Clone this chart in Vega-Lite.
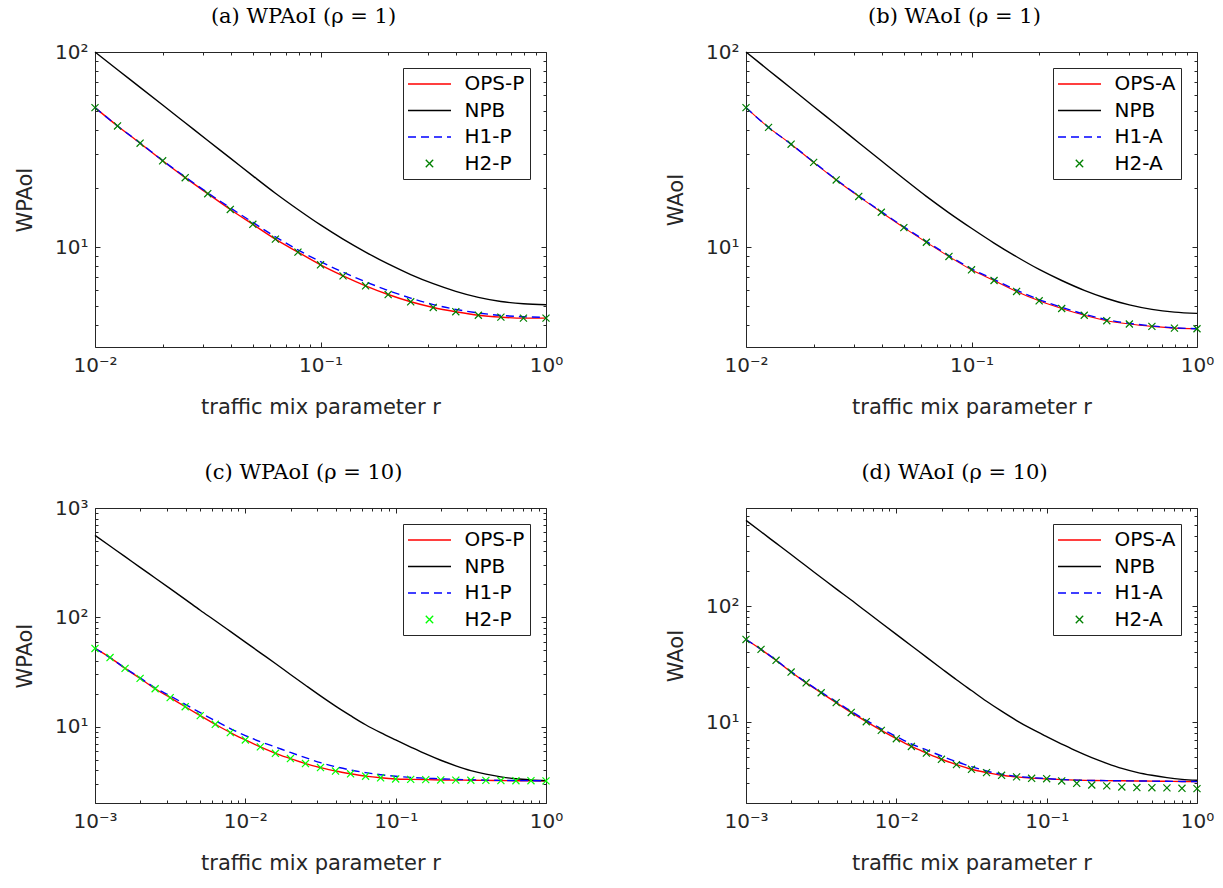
{
  "$schema": "https://vega.github.io/schema/vega-lite/v6.json",
  "padding": {"left": 14, "top": 5, "right": 5, "bottom": 5},
  "background": "white",
  "config": {
    "view": {"stroke": "#262626", "strokeWidth": 1},
    "axis": {"domain": false, "grid": false, "labelFont": "DejaVu Sans", "labelFontSize": 20, "labelColor": "#262626", "titleFont": "DejaVu Sans", "titleFontSize": 21, "titleFontWeight": "normal", "titleColor": "#262626", "tickColor": "#262626", "tickWidth": 1, "labelOverlap": false, "labelFlush": false, "labelBound": false},
    "title": {"font": "DejaVu Serif", "fontSize": 21, "fontWeight": "normal", "color": "black", "offset": 15, "dx": -17, "anchor": "middle"},
    "legend": {"labelFont": "DejaVu Sans", "labelFontSize": 20, "labelColor": "black"}
  },
  "datasets": {
    "pa": [
      {"r":0.01,"w":51.9,"s":"OPS-P"},{"r":0.012589,"w":41.8,"s":"OPS-P"},{"r":0.015849,"w":34.1,"s":"OPS-P"},{"r":0.019953,"w":27.7,"s":"OPS-P"},{"r":0.025119,"w":22.7,"s":"OPS-P"},{"r":0.031623,"w":18.8,"s":"OPS-P"},{"r":0.039811,"w":15.6,"s":"OPS-P"},{"r":0.050119,"w":13.1,"s":"OPS-P"},{"r":0.063096,"w":11.0,"s":"OPS-P"},{"r":0.079433,"w":9.43,"s":"OPS-P"},{"r":0.1,"w":8.12,"s":"OPS-P"},{"r":0.12589,"w":7.13,"s":"OPS-P"},{"r":0.15849,"w":6.34,"s":"OPS-P"},{"r":0.19953,"w":5.72,"s":"OPS-P"},{"r":0.25119,"w":5.25,"s":"OPS-P"},{"r":0.31623,"w":4.91,"s":"OPS-P"},{"r":0.39811,"w":4.67,"s":"OPS-P"},{"r":0.50119,"w":4.48,"s":"OPS-P"},{"r":0.63096,"w":4.38,"s":"OPS-P"},{"r":0.79433,"w":4.33,"s":"OPS-P"},{"r":1,"w":4.33,"s":"OPS-P"},
      {"r":0.01,"w":100,"s":"NPB"},{"r":0.012589,"w":81.1,"s":"NPB"},{"r":0.015849,"w":65.9,"s":"NPB"},{"r":0.019953,"w":53.5,"s":"NPB"},{"r":0.025119,"w":43.4,"s":"NPB"},{"r":0.031623,"w":35.2,"s":"NPB"},{"r":0.039811,"w":28.6,"s":"NPB"},{"r":0.050119,"w":23.2,"s":"NPB"},{"r":0.063096,"w":18.9,"s":"NPB"},{"r":0.079433,"w":15.6,"s":"NPB"},{"r":0.1,"w":13.0,"s":"NPB"},{"r":0.12589,"w":11.0,"s":"NPB"},{"r":0.15849,"w":9.44,"s":"NPB"},{"r":0.19953,"w":8.20,"s":"NPB"},{"r":0.25119,"w":7.24,"s":"NPB"},{"r":0.31623,"w":6.50,"s":"NPB"},{"r":0.39811,"w":5.94,"s":"NPB"},{"r":0.50119,"w":5.53,"s":"NPB"},{"r":0.63096,"w":5.27,"s":"NPB"},{"r":0.79433,"w":5.13,"s":"NPB"},{"r":1,"w":5.07,"s":"NPB"},
      {"r":0.01,"w":51.9,"s":"H1-P"},{"r":0.012589,"w":41.8,"s":"H1-P"},{"r":0.015849,"w":34.2,"s":"H1-P"},{"r":0.019953,"w":27.8,"s":"H1-P"},{"r":0.025119,"w":22.9,"s":"H1-P"},{"r":0.031623,"w":19.0,"s":"H1-P"},{"r":0.039811,"w":15.9,"s":"H1-P"},{"r":0.050119,"w":13.4,"s":"H1-P"},{"r":0.063096,"w":11.3,"s":"H1-P"},{"r":0.079433,"w":9.68,"s":"H1-P"},{"r":0.1,"w":8.43,"s":"H1-P"},{"r":0.12589,"w":7.45,"s":"H1-P"},{"r":0.15849,"w":6.65,"s":"H1-P"},{"r":0.19953,"w":6.00,"s":"H1-P"},{"r":0.25119,"w":5.48,"s":"H1-P"},{"r":0.31623,"w":5.08,"s":"H1-P"},{"r":0.39811,"w":4.80,"s":"H1-P"},{"r":0.50119,"w":4.60,"s":"H1-P"},{"r":0.63096,"w":4.47,"s":"H1-P"},{"r":0.79433,"w":4.40,"s":"H1-P"},{"r":1,"w":4.37,"s":"H1-P"},
      {"r":0.01,"w":51.9,"s":"H2-P"},{"r":0.012589,"w":41.8,"s":"H2-P"},{"r":0.015849,"w":34.1,"s":"H2-P"},{"r":0.019953,"w":27.7,"s":"H2-P"},{"r":0.025119,"w":22.7,"s":"H2-P"},{"r":0.031623,"w":18.8,"s":"H2-P"},{"r":0.039811,"w":15.6,"s":"H2-P"},{"r":0.050119,"w":13.1,"s":"H2-P"},{"r":0.063096,"w":11.0,"s":"H2-P"},{"r":0.079433,"w":9.43,"s":"H2-P"},{"r":0.1,"w":8.12,"s":"H2-P"},{"r":0.12589,"w":7.13,"s":"H2-P"},{"r":0.15849,"w":6.34,"s":"H2-P"},{"r":0.19953,"w":5.72,"s":"H2-P"},{"r":0.25119,"w":5.25,"s":"H2-P"},{"r":0.31623,"w":4.91,"s":"H2-P"},{"r":0.39811,"w":4.67,"s":"H2-P"},{"r":0.50119,"w":4.48,"s":"H2-P"},{"r":0.63096,"w":4.38,"s":"H2-P"},{"r":0.79433,"w":4.33,"s":"H2-P"},{"r":1,"w":4.33,"s":"H2-P"}
    ],
    "pb": [
      {"r":0.01,"w":51.9,"s":"OPS-A"},{"r":0.012589,"w":41.1,"s":"OPS-A"},{"r":0.015849,"w":33.7,"s":"OPS-A"},{"r":0.019953,"w":27.2,"s":"OPS-A"},{"r":0.025119,"w":22.1,"s":"OPS-A"},{"r":0.031623,"w":18.2,"s":"OPS-A"},{"r":0.039811,"w":15.1,"s":"OPS-A"},{"r":0.050119,"w":12.6,"s":"OPS-A"},{"r":0.063096,"w":10.6,"s":"OPS-A"},{"r":0.079433,"w":8.96,"s":"OPS-A"},{"r":0.1,"w":7.66,"s":"OPS-A"},{"r":0.12589,"w":6.75,"s":"OPS-A"},{"r":0.15849,"w":5.93,"s":"OPS-A"},{"r":0.19953,"w":5.31,"s":"OPS-A"},{"r":0.25119,"w":4.85,"s":"OPS-A"},{"r":0.31623,"w":4.48,"s":"OPS-A"},{"r":0.39811,"w":4.20,"s":"OPS-A"},{"r":0.50119,"w":4.04,"s":"OPS-A"},{"r":0.63096,"w":3.93,"s":"OPS-A"},{"r":0.79433,"w":3.85,"s":"OPS-A"},{"r":1,"w":3.82,"s":"OPS-A"},
      {"r":0.01,"w":100,"s":"NPB"},{"r":0.012589,"w":80.7,"s":"NPB"},{"r":0.015849,"w":65.2,"s":"NPB"},{"r":0.019953,"w":52.6,"s":"NPB"},{"r":0.025119,"w":42.5,"s":"NPB"},{"r":0.031623,"w":34.3,"s":"NPB"},{"r":0.039811,"w":27.7,"s":"NPB"},{"r":0.050119,"w":22.4,"s":"NPB"},{"r":0.063096,"w":18.2,"s":"NPB"},{"r":0.079433,"w":15.0,"s":"NPB"},{"r":0.1,"w":12.5,"s":"NPB"},{"r":0.12589,"w":10.5,"s":"NPB"},{"r":0.15849,"w":8.93,"s":"NPB"},{"r":0.19953,"w":7.69,"s":"NPB"},{"r":0.25119,"w":6.75,"s":"NPB"},{"r":0.31623,"w":6.01,"s":"NPB"},{"r":0.39811,"w":5.46,"s":"NPB"},{"r":0.50119,"w":5.06,"s":"NPB"},{"r":0.63096,"w":4.80,"s":"NPB"},{"r":0.79433,"w":4.65,"s":"NPB"},{"r":1,"w":4.58,"s":"NPB"},
      {"r":0.01,"w":51.9,"s":"H1-A"},{"r":0.012589,"w":41.1,"s":"H1-A"},{"r":0.015849,"w":33.7,"s":"H1-A"},{"r":0.019953,"w":27.3,"s":"H1-A"},{"r":0.025119,"w":22.2,"s":"H1-A"},{"r":0.031623,"w":18.3,"s":"H1-A"},{"r":0.039811,"w":15.2,"s":"H1-A"},{"r":0.050119,"w":12.7,"s":"H1-A"},{"r":0.063096,"w":10.7,"s":"H1-A"},{"r":0.079433,"w":9.05,"s":"H1-A"},{"r":0.1,"w":7.75,"s":"H1-A"},{"r":0.12589,"w":6.84,"s":"H1-A"},{"r":0.15849,"w":6.02,"s":"H1-A"},{"r":0.19953,"w":5.39,"s":"H1-A"},{"r":0.25119,"w":4.92,"s":"H1-A"},{"r":0.31623,"w":4.54,"s":"H1-A"},{"r":0.39811,"w":4.25,"s":"H1-A"},{"r":0.50119,"w":4.07,"s":"H1-A"},{"r":0.63096,"w":3.95,"s":"H1-A"},{"r":0.79433,"w":3.86,"s":"H1-A"},{"r":1,"w":3.82,"s":"H1-A"},
      {"r":0.01,"w":51.9,"s":"H2-A"},{"r":0.012589,"w":41.1,"s":"H2-A"},{"r":0.015849,"w":33.7,"s":"H2-A"},{"r":0.019953,"w":27.2,"s":"H2-A"},{"r":0.025119,"w":22.1,"s":"H2-A"},{"r":0.031623,"w":18.2,"s":"H2-A"},{"r":0.039811,"w":15.1,"s":"H2-A"},{"r":0.050119,"w":12.6,"s":"H2-A"},{"r":0.063096,"w":10.6,"s":"H2-A"},{"r":0.079433,"w":8.96,"s":"H2-A"},{"r":0.1,"w":7.66,"s":"H2-A"},{"r":0.12589,"w":6.75,"s":"H2-A"},{"r":0.15849,"w":5.93,"s":"H2-A"},{"r":0.19953,"w":5.31,"s":"H2-A"},{"r":0.25119,"w":4.85,"s":"H2-A"},{"r":0.31623,"w":4.48,"s":"H2-A"},{"r":0.39811,"w":4.20,"s":"H2-A"},{"r":0.50119,"w":4.04,"s":"H2-A"},{"r":0.63096,"w":3.93,"s":"H2-A"},{"r":0.79433,"w":3.85,"s":"H2-A"},{"r":1,"w":3.82,"s":"H2-A"}
    ],
    "pc": [
      {"r":0.001,"w":51.9,"s":"OPS-P"},{"r":0.0012589,"w":42.8,"s":"OPS-P"},{"r":0.0015849,"w":34.1,"s":"OPS-P"},{"r":0.0019953,"w":27.6,"s":"OPS-P"},{"r":0.0025119,"w":22.2,"s":"OPS-P"},{"r":0.0031623,"w":18.4,"s":"OPS-P"},{"r":0.0039811,"w":15.2,"s":"OPS-P"},{"r":0.0050119,"w":12.6,"s":"OPS-P"},{"r":0.0063096,"w":10.5,"s":"OPS-P"},{"r":0.0079433,"w":8.81,"s":"OPS-P"},{"r":0.01,"w":7.55,"s":"OPS-P"},{"r":0.012589,"w":6.52,"s":"OPS-P"},{"r":0.015849,"w":5.70,"s":"OPS-P"},{"r":0.019953,"w":5.10,"s":"OPS-P"},{"r":0.025119,"w":4.59,"s":"OPS-P"},{"r":0.031623,"w":4.22,"s":"OPS-P"},{"r":0.039811,"w":3.92,"s":"OPS-P"},{"r":0.050119,"w":3.70,"s":"OPS-P"},{"r":0.063096,"w":3.52,"s":"OPS-P"},{"r":0.079433,"w":3.40,"s":"OPS-P"},{"r":0.1,"w":3.32,"s":"OPS-P"},{"r":0.12589,"w":3.29,"s":"OPS-P"},{"r":0.15849,"w":3.27,"s":"OPS-P"},{"r":0.19953,"w":3.25,"s":"OPS-P"},{"r":0.25119,"w":3.24,"s":"OPS-P"},{"r":0.31623,"w":3.23,"s":"OPS-P"},{"r":0.39811,"w":3.22,"s":"OPS-P"},{"r":0.50119,"w":3.21,"s":"OPS-P"},{"r":0.63096,"w":3.20,"s":"OPS-P"},{"r":0.79433,"w":3.20,"s":"OPS-P"},{"r":1,"w":3.19,"s":"OPS-P"},
      {"r":0.001,"w":562,"s":"NPB"},{"r":0.0012589,"w":449,"s":"NPB"},{"r":0.0015849,"w":359,"s":"NPB"},{"r":0.0019953,"w":286,"s":"NPB"},{"r":0.0025119,"w":229,"s":"NPB"},{"r":0.0031623,"w":183,"s":"NPB"},{"r":0.0039811,"w":146,"s":"NPB"},{"r":0.0050119,"w":116,"s":"NPB"},{"r":0.0063096,"w":93.0,"s":"NPB"},{"r":0.0079433,"w":74.3,"s":"NPB"},{"r":0.01,"w":59.3,"s":"NPB"},{"r":0.012589,"w":47.3,"s":"NPB"},{"r":0.015849,"w":37.8,"s":"NPB"},{"r":0.019953,"w":30.0,"s":"NPB"},{"r":0.025119,"w":23.9,"s":"NPB"},{"r":0.031623,"w":19.1,"s":"NPB"},{"r":0.039811,"w":15.4,"s":"NPB"},{"r":0.050119,"w":12.6,"s":"NPB"},{"r":0.063096,"w":10.4,"s":"NPB"},{"r":0.079433,"w":8.80,"s":"NPB"},{"r":0.1,"w":7.55,"s":"NPB"},{"r":0.12589,"w":6.50,"s":"NPB"},{"r":0.15849,"w":5.62,"s":"NPB"},{"r":0.19953,"w":4.92,"s":"NPB"},{"r":0.25119,"w":4.38,"s":"NPB"},{"r":0.31623,"w":3.96,"s":"NPB"},{"r":0.39811,"w":3.67,"s":"NPB"},{"r":0.50119,"w":3.47,"s":"NPB"},{"r":0.63096,"w":3.33,"s":"NPB"},{"r":0.79433,"w":3.25,"s":"NPB"},{"r":1,"w":3.20,"s":"NPB"},
      {"r":0.001,"w":51.9,"s":"H1-P"},{"r":0.0012589,"w":42.8,"s":"H1-P"},{"r":0.0015849,"w":34.3,"s":"H1-P"},{"r":0.0019953,"w":27.9,"s":"H1-P"},{"r":0.0025119,"w":22.6,"s":"H1-P"},{"r":0.0031623,"w":19.1,"s":"H1-P"},{"r":0.0039811,"w":16.0,"s":"H1-P"},{"r":0.0050119,"w":13.4,"s":"H1-P"},{"r":0.0063096,"w":11.3,"s":"H1-P"},{"r":0.0079433,"w":9.59,"s":"H1-P"},{"r":0.01,"w":8.28,"s":"H1-P"},{"r":0.012589,"w":7.28,"s":"H1-P"},{"r":0.015849,"w":6.51,"s":"H1-P"},{"r":0.019953,"w":5.80,"s":"H1-P"},{"r":0.025119,"w":5.20,"s":"H1-P"},{"r":0.031623,"w":4.68,"s":"H1-P"},{"r":0.039811,"w":4.30,"s":"H1-P"},{"r":0.050119,"w":4.01,"s":"H1-P"},{"r":0.063096,"w":3.79,"s":"H1-P"},{"r":0.079433,"w":3.63,"s":"H1-P"},{"r":0.1,"w":3.51,"s":"H1-P"},{"r":0.12589,"w":3.43,"s":"H1-P"},{"r":0.15849,"w":3.37,"s":"H1-P"},{"r":0.19953,"w":3.33,"s":"H1-P"},{"r":0.25119,"w":3.29,"s":"H1-P"},{"r":0.31623,"w":3.26,"s":"H1-P"},{"r":0.39811,"w":3.24,"s":"H1-P"},{"r":0.50119,"w":3.22,"s":"H1-P"},{"r":0.63096,"w":3.21,"s":"H1-P"},{"r":0.79433,"w":3.20,"s":"H1-P"},{"r":1,"w":3.19,"s":"H1-P"},
      {"r":0.001,"w":51.9,"s":"H2-P"},{"r":0.0012589,"w":42.8,"s":"H2-P"},{"r":0.0015849,"w":34.1,"s":"H2-P"},{"r":0.0019953,"w":27.6,"s":"H2-P"},{"r":0.0025119,"w":22.2,"s":"H2-P"},{"r":0.0031623,"w":18.4,"s":"H2-P"},{"r":0.0039811,"w":15.2,"s":"H2-P"},{"r":0.0050119,"w":12.6,"s":"H2-P"},{"r":0.0063096,"w":10.5,"s":"H2-P"},{"r":0.0079433,"w":8.81,"s":"H2-P"},{"r":0.01,"w":7.55,"s":"H2-P"},{"r":0.012589,"w":6.52,"s":"H2-P"},{"r":0.015849,"w":5.70,"s":"H2-P"},{"r":0.019953,"w":5.10,"s":"H2-P"},{"r":0.025119,"w":4.59,"s":"H2-P"},{"r":0.031623,"w":4.22,"s":"H2-P"},{"r":0.039811,"w":3.92,"s":"H2-P"},{"r":0.050119,"w":3.70,"s":"H2-P"},{"r":0.063096,"w":3.52,"s":"H2-P"},{"r":0.079433,"w":3.40,"s":"H2-P"},{"r":0.1,"w":3.32,"s":"H2-P"},{"r":0.12589,"w":3.29,"s":"H2-P"},{"r":0.15849,"w":3.27,"s":"H2-P"},{"r":0.19953,"w":3.25,"s":"H2-P"},{"r":0.25119,"w":3.24,"s":"H2-P"},{"r":0.31623,"w":3.23,"s":"H2-P"},{"r":0.39811,"w":3.22,"s":"H2-P"},{"r":0.50119,"w":3.21,"s":"H2-P"},{"r":0.63096,"w":3.20,"s":"H2-P"},{"r":0.79433,"w":3.20,"s":"H2-P"},{"r":1,"w":3.19,"s":"H2-P"}
    ],
    "pd": [
      {"r":0.001,"w":51.6,"s":"OPS-A"},{"r":0.0012589,"w":42.4,"s":"OPS-A"},{"r":0.0015849,"w":34.1,"s":"OPS-A"},{"r":0.0019953,"w":27.0,"s":"OPS-A"},{"r":0.0025119,"w":21.8,"s":"OPS-A"},{"r":0.0031623,"w":17.9,"s":"OPS-A"},{"r":0.0039811,"w":14.7,"s":"OPS-A"},{"r":0.0050119,"w":12.1,"s":"OPS-A"},{"r":0.0063096,"w":10.07,"s":"OPS-A"},{"r":0.0079433,"w":8.47,"s":"OPS-A"},{"r":0.01,"w":7.18,"s":"OPS-A"},{"r":0.012589,"w":6.15,"s":"OPS-A"},{"r":0.015849,"w":5.40,"s":"OPS-A"},{"r":0.019953,"w":4.77,"s":"OPS-A"},{"r":0.025119,"w":4.29,"s":"OPS-A"},{"r":0.031623,"w":3.91,"s":"OPS-A"},{"r":0.039811,"w":3.66,"s":"OPS-A"},{"r":0.050119,"w":3.47,"s":"OPS-A"},{"r":0.063096,"w":3.36,"s":"OPS-A"},{"r":0.079433,"w":3.28,"s":"OPS-A"},{"r":0.1,"w":3.23,"s":"OPS-A"},{"r":0.12589,"w":3.18,"s":"OPS-A"},{"r":0.15849,"w":3.15,"s":"OPS-A"},{"r":0.19953,"w":3.13,"s":"OPS-A"},{"r":0.25119,"w":3.12,"s":"OPS-A"},{"r":0.31623,"w":3.11,"s":"OPS-A"},{"r":0.39811,"w":3.10,"s":"OPS-A"},{"r":0.50119,"w":3.09,"s":"OPS-A"},{"r":0.63096,"w":3.08,"s":"OPS-A"},{"r":0.79433,"w":3.07,"s":"OPS-A"},{"r":1,"w":3.06,"s":"OPS-A"},
      {"r":0.001,"w":551,"s":"NPB"},{"r":0.0012589,"w":439,"s":"NPB"},{"r":0.0015849,"w":350,"s":"NPB"},{"r":0.0019953,"w":279,"s":"NPB"},{"r":0.0025119,"w":222,"s":"NPB"},{"r":0.0031623,"w":177,"s":"NPB"},{"r":0.0039811,"w":141,"s":"NPB"},{"r":0.0050119,"w":113,"s":"NPB"},{"r":0.0063096,"w":89.9,"s":"NPB"},{"r":0.0079433,"w":71.6,"s":"NPB"},{"r":0.01,"w":57.1,"s":"NPB"},{"r":0.012589,"w":45.6,"s":"NPB"},{"r":0.015849,"w":36.3,"s":"NPB"},{"r":0.019953,"w":29.0,"s":"NPB"},{"r":0.025119,"w":23.2,"s":"NPB"},{"r":0.031623,"w":18.7,"s":"NPB"},{"r":0.039811,"w":15.1,"s":"NPB"},{"r":0.050119,"w":12.4,"s":"NPB"},{"r":0.063096,"w":10.3,"s":"NPB"},{"r":0.079433,"w":8.71,"s":"NPB"},{"r":0.1,"w":7.48,"s":"NPB"},{"r":0.12589,"w":6.46,"s":"NPB"},{"r":0.15849,"w":5.60,"s":"NPB"},{"r":0.19953,"w":4.92,"s":"NPB"},{"r":0.25119,"w":4.40,"s":"NPB"},{"r":0.31623,"w":3.98,"s":"NPB"},{"r":0.39811,"w":3.68,"s":"NPB"},{"r":0.50119,"w":3.47,"s":"NPB"},{"r":0.63096,"w":3.31,"s":"NPB"},{"r":0.79433,"w":3.20,"s":"NPB"},{"r":1,"w":3.14,"s":"NPB"},
      {"r":0.001,"w":51.6,"s":"H1-A"},{"r":0.0012589,"w":42.4,"s":"H1-A"},{"r":0.0015849,"w":34.2,"s":"H1-A"},{"r":0.0019953,"w":27.2,"s":"H1-A"},{"r":0.0025119,"w":22.0,"s":"H1-A"},{"r":0.0031623,"w":18.1,"s":"H1-A"},{"r":0.0039811,"w":15.0,"s":"H1-A"},{"r":0.0050119,"w":12.35,"s":"H1-A"},{"r":0.0063096,"w":10.35,"s":"H1-A"},{"r":0.0079433,"w":8.75,"s":"H1-A"},{"r":0.01,"w":7.50,"s":"H1-A"},{"r":0.012589,"w":6.46,"s":"H1-A"},{"r":0.015849,"w":5.75,"s":"H1-A"},{"r":0.019953,"w":5.09,"s":"H1-A"},{"r":0.025119,"w":4.55,"s":"H1-A"},{"r":0.031623,"w":4.12,"s":"H1-A"},{"r":0.039811,"w":3.78,"s":"H1-A"},{"r":0.050119,"w":3.54,"s":"H1-A"},{"r":0.063096,"w":3.40,"s":"H1-A"},{"r":0.079433,"w":3.31,"s":"H1-A"},{"r":0.1,"w":3.25,"s":"H1-A"},{"r":0.12589,"w":3.19,"s":"H1-A"},{"r":0.15849,"w":3.15,"s":"H1-A"},{"r":0.19953,"w":3.13,"s":"H1-A"},{"r":0.25119,"w":3.12,"s":"H1-A"},{"r":0.31623,"w":3.11,"s":"H1-A"},{"r":0.39811,"w":3.10,"s":"H1-A"},{"r":0.50119,"w":3.09,"s":"H1-A"},{"r":0.63096,"w":3.08,"s":"H1-A"},{"r":0.79433,"w":3.07,"s":"H1-A"},{"r":1,"w":3.06,"s":"H1-A"},
      {"r":0.001,"w":51.6,"s":"H2-A"},{"r":0.0012589,"w":42.4,"s":"H2-A"},{"r":0.0015849,"w":34.1,"s":"H2-A"},{"r":0.0019953,"w":27.0,"s":"H2-A"},{"r":0.0025119,"w":21.8,"s":"H2-A"},{"r":0.0031623,"w":17.9,"s":"H2-A"},{"r":0.0039811,"w":14.7,"s":"H2-A"},{"r":0.0050119,"w":12.1,"s":"H2-A"},{"r":0.0063096,"w":10.07,"s":"H2-A"},{"r":0.0079433,"w":8.47,"s":"H2-A"},{"r":0.01,"w":7.18,"s":"H2-A"},{"r":0.012589,"w":6.15,"s":"H2-A"},{"r":0.015849,"w":5.40,"s":"H2-A"},{"r":0.019953,"w":4.77,"s":"H2-A"},{"r":0.025119,"w":4.29,"s":"H2-A"},{"r":0.031623,"w":3.91,"s":"H2-A"},{"r":0.039811,"w":3.66,"s":"H2-A"},{"r":0.050119,"w":3.47,"s":"H2-A"},{"r":0.063096,"w":3.36,"s":"H2-A"},{"r":0.079433,"w":3.27,"s":"H2-A"},{"r":0.1,"w":3.24,"s":"H2-A"},{"r":0.12589,"w":3.10,"s":"H2-A"},{"r":0.15849,"w":2.96,"s":"H2-A"},{"r":0.19953,"w":2.86,"s":"H2-A"},{"r":0.25119,"w":2.81,"s":"H2-A"},{"r":0.31623,"w":2.75,"s":"H2-A"},{"r":0.39811,"w":2.72,"s":"H2-A"},{"r":0.50119,"w":2.71,"s":"H2-A"},{"r":0.63096,"w":2.70,"s":"H2-A"},{"r":0.79433,"w":2.68,"s":"H2-A"},{"r":1,"w":2.66,"s":"H2-A"}
    ]
  },
  "resolve": {"scale": {"color": "independent"}, "legend": {"color": "independent"}},
  "spacing": 43,
  "vconcat": [
    {
      "spacing": 101,
      "resolve": {"scale": {"color": "independent"}, "legend": {"color": "independent"}},
      "hconcat": [
        {
          "width": 451, "height": 295,
          "title": {"text": "(a) WPAoI (ρ = 1)"},
          "data": {"name": "pa"},
          "resolve": {"axis": {"x": "independent", "y": "independent"}},
          "layer": [
            {"transform": [{"filter": "datum.s == 'OPS-P'"}],
             "mark": {"type": "line", "strokeWidth": 1.4, "interpolate": "monotone"},
             "encoding": {
               "x": {"field": "r", "type": "quantitative", "scale": {"type": "log", "domain": [0.01, 1], "nice": false},
                 "axis": {"orient": "bottom", "title": "traffic mix parameter r", "values": [0.01, 0.1, 1], "tickSize": -5,
                   "labelExpr": "datum.value==0.001?'10⁻³':datum.value==0.01?'10⁻²':datum.value==0.1?'10⁻¹':datum.value==1?'10⁰':''",
                   "labelPadding": 13, "titlePadding": 21}},
               "y": {"field": "w", "type": "quantitative", "scale": {"type": "log", "domain": [3.08, 100], "nice": false},
                 "axis": {"orient": "left", "title": "WPAoI", "values": [10, 100], "tickSize": -5,
                   "labelExpr": "datum.value==10?'10¹':datum.value==100?'10²':datum.value==1000?'10³':''",
                   "labelPadding": 12, "titlePadding": 19}},
               "color": {"field": "s", "type": "nominal", "scale": {"domain": ["OPS-P", "NPB", "H1-P", "H2-P"], "range": ["#ff0000", "#000000", "#0000ff", "#008000"]},
                 "legend": {"title": null, "orient": "top-right", "offset": 16, "padding": 5, "rowPadding": 5.5, "symbolSize": 400, "symbolOffset": 10.5, "labelOffset": 24, "symbolStrokeWidth": 1.4, "strokeColor": "#262626", "fillColor": "white",
                   "encode": {"symbols": {"update": {
                     "shape": {"signal": "indexof(datum.value,'H2')==0 ? 'M-0.37,-0.37L0.37,0.37M-0.37,0.37L0.37,-0.37' : 'M-2.15,0L2.15,0'"},
                     "strokeDash": {"signal": "indexof(datum.value,'H1')==0 ? [8,5] : [1,0]"},
                     "fill": {"value": "transparent"},
                     "stroke": {"signal": "indexof(datum.value,'OPS')==0 ? '#ff0000' : indexof(datum.value,'NPB')==0 ? '#000000' : indexof(datum.value,'H1')==0 ? '#0000ff' : '#008000'"}}}}}}
             }},
            {"transform": [{"filter": "datum.s == 'NPB'"}],
             "mark": {"type": "line", "strokeWidth": 1.4, "interpolate": "monotone"},
             "encoding": {
               "x": {"field": "r", "type": "quantitative", "axis": {"orient": "bottom", "title": null, "labels": false, "tickSize": -3, "values": [0.02,0.03,0.04,0.05,0.06,0.07,0.08,0.09,0.2,0.3,0.4,0.5,0.6,0.7,0.8,0.9]}},
               "y": {"field": "w", "type": "quantitative", "axis": {"orient": "left", "title": null, "labels": false, "tickSize": -3, "values": [4,5,6,7,8,9,20,30,40,50,60,70,80,90]}},
               "color": {"field": "s", "type": "nominal"}}},
            {"transform": [{"filter": "datum.s == 'H1-P'"}],
             "mark": {"type": "line", "strokeWidth": 1.4, "strokeDash": [8, 5], "interpolate": "monotone"},
             "encoding": {
               "x": {"field": "r", "type": "quantitative", "axis": {"orient": "top", "title": null, "labels": false, "tickSize": -5, "values": [0.01, 0.1, 1]}},
               "y": {"field": "w", "type": "quantitative", "axis": {"orient": "right", "title": null, "labels": false, "tickSize": -5, "values": [10, 100]}},
               "color": {"field": "s", "type": "nominal"}}},
            {"transform": [{"filter": "datum.s == 'H2-P'"}],
             "mark": {"type": "point", "shape": "M-1,-1L1,1M-1,1L1,-1", "filled": false, "size": 50, "strokeWidth": 1.2, "opacity": 1},
             "encoding": {
               "x": {"field": "r", "type": "quantitative", "axis": {"orient": "top", "title": null, "labels": false, "tickSize": -3, "values": [0.02,0.03,0.04,0.05,0.06,0.07,0.08,0.09,0.2,0.3,0.4,0.5,0.6,0.7,0.8,0.9]}},
               "y": {"field": "w", "type": "quantitative", "axis": {"orient": "right", "title": null, "labels": false, "tickSize": -3, "values": [4,5,6,7,8,9,20,30,40,50,60,70,80,90]}},
               "color": {"field": "s", "type": "nominal"}}}
          ]
        },
        {
          "width": 451, "height": 295,
          "title": {"text": "(b) WAoI (ρ = 1)"},
          "data": {"name": "pb"},
          "resolve": {"axis": {"x": "independent", "y": "independent"}},
          "layer": [
            {"transform": [{"filter": "datum.s == 'OPS-A'"}],
             "mark": {"type": "line", "strokeWidth": 1.1, "interpolate": "monotone"},
             "encoding": {
               "x": {"field": "r", "type": "quantitative", "scale": {"type": "log", "domain": [0.01, 1], "nice": false},
                 "axis": {"orient": "bottom", "title": "traffic mix parameter r", "values": [0.01, 0.1, 1], "tickSize": -5,
                   "labelExpr": "datum.value==0.001?'10⁻³':datum.value==0.01?'10⁻²':datum.value==0.1?'10⁻¹':datum.value==1?'10⁰':''",
                   "labelPadding": 13, "titlePadding": 21}},
               "y": {"field": "w", "type": "quantitative", "scale": {"type": "log", "domain": [3.08, 100], "nice": false},
                 "axis": {"orient": "left", "title": "WAoI", "values": [10, 100], "tickSize": -5,
                   "labelExpr": "datum.value==10?'10¹':datum.value==100?'10²':datum.value==1000?'10³':''",
                   "labelPadding": 12, "titlePadding": 19}},
               "color": {"field": "s", "type": "nominal", "scale": {"domain": ["OPS-A", "NPB", "H1-A", "H2-A"], "range": ["#ff0000", "#000000", "#0000ff", "#008000"]},
                 "legend": {"title": null, "orient": "top-right", "offset": 16, "padding": 5, "rowPadding": 5.5, "symbolSize": 400, "symbolOffset": 10.5, "labelOffset": 24, "symbolStrokeWidth": 1.4, "strokeColor": "#262626", "fillColor": "white",
                   "encode": {"symbols": {"update": {
                     "shape": {"signal": "indexof(datum.value,'H2')==0 ? 'M-0.37,-0.37L0.37,0.37M-0.37,0.37L0.37,-0.37' : 'M-2.15,0L2.15,0'"},
                     "strokeDash": {"signal": "indexof(datum.value,'H1')==0 ? [8,5] : [1,0]"},
                     "fill": {"value": "transparent"},
                     "stroke": {"signal": "indexof(datum.value,'OPS')==0 ? '#ff0000' : indexof(datum.value,'NPB')==0 ? '#000000' : indexof(datum.value,'H1')==0 ? '#0000ff' : '#008000'"}}}}}}
             }},
            {"transform": [{"filter": "datum.s == 'NPB'"}],
             "mark": {"type": "line", "strokeWidth": 1.4, "interpolate": "monotone"},
             "encoding": {
               "x": {"field": "r", "type": "quantitative", "axis": {"orient": "bottom", "title": null, "labels": false, "tickSize": -3, "values": [0.02,0.03,0.04,0.05,0.06,0.07,0.08,0.09,0.2,0.3,0.4,0.5,0.6,0.7,0.8,0.9]}},
               "y": {"field": "w", "type": "quantitative", "axis": {"orient": "left", "title": null, "labels": false, "tickSize": -3, "values": [4,5,6,7,8,9,20,30,40,50,60,70,80,90]}},
               "color": {"field": "s", "type": "nominal"}}},
            {"transform": [{"filter": "datum.s == 'H1-A'"}],
             "mark": {"type": "line", "strokeWidth": 1.4, "strokeDash": [8, 5], "interpolate": "monotone"},
             "encoding": {
               "x": {"field": "r", "type": "quantitative", "axis": {"orient": "top", "title": null, "labels": false, "tickSize": -5, "values": [0.01, 0.1, 1]}},
               "y": {"field": "w", "type": "quantitative", "axis": {"orient": "right", "title": null, "labels": false, "tickSize": -5, "values": [10, 100]}},
               "color": {"field": "s", "type": "nominal"}}},
            {"transform": [{"filter": "datum.s == 'H2-A'"}],
             "mark": {"type": "point", "shape": "M-1,-1L1,1M-1,1L1,-1", "filled": false, "size": 50, "strokeWidth": 1.2, "opacity": 1},
             "encoding": {
               "x": {"field": "r", "type": "quantitative", "axis": {"orient": "top", "title": null, "labels": false, "tickSize": -3, "values": [0.02,0.03,0.04,0.05,0.06,0.07,0.08,0.09,0.2,0.3,0.4,0.5,0.6,0.7,0.8,0.9]}},
               "y": {"field": "w", "type": "quantitative", "axis": {"orient": "right", "title": null, "labels": false, "tickSize": -3, "values": [4,5,6,7,8,9,20,30,40,50,60,70,80,90]}},
               "color": {"field": "s", "type": "nominal"}}}
          ]
        }
      ]
    },
    {
      "spacing": 101,
      "resolve": {"scale": {"color": "independent"}, "legend": {"color": "independent"}},
      "hconcat": [
        {
          "width": 451, "height": 295,
          "title": {"text": "(c) WPAoI (ρ = 10)"},
          "data": {"name": "pc"},
          "resolve": {"axis": {"x": "independent", "y": "independent"}},
          "layer": [
            {"transform": [{"filter": "datum.s == 'OPS-P'"}],
             "mark": {"type": "line", "strokeWidth": 1.4, "interpolate": "monotone"},
             "encoding": {
               "x": {"field": "r", "type": "quantitative", "scale": {"type": "log", "domain": [0.001, 1], "nice": false},
                 "axis": {"orient": "bottom", "title": "traffic mix parameter r", "values": [0.001, 0.01, 0.1, 1], "tickSize": -5,
                   "labelExpr": "datum.value==0.001?'10⁻³':datum.value==0.01?'10⁻²':datum.value==0.1?'10⁻¹':datum.value==1?'10⁰':''",
                   "labelPadding": 13, "titlePadding": 21}},
               "y": {"field": "w", "type": "quantitative", "scale": {"type": "log", "domain": [2, 1000], "nice": false},
                 "axis": {"orient": "left", "title": "WPAoI", "values": [10, 100, 1000], "tickSize": -5,
                   "labelExpr": "datum.value==10?'10¹':datum.value==100?'10²':datum.value==1000?'10³':''",
                   "labelPadding": 12, "titlePadding": 19}},
               "color": {"field": "s", "type": "nominal", "scale": {"domain": ["OPS-P", "NPB", "H1-P", "H2-P"], "range": ["#ff0000", "#000000", "#0000ff", "#00ff00"]},
                 "legend": {"title": null, "orient": "top-right", "offset": 16, "padding": 5, "rowPadding": 5.5, "symbolSize": 400, "symbolOffset": 10.5, "labelOffset": 24, "symbolStrokeWidth": 1.4, "strokeColor": "#262626", "fillColor": "white",
                   "encode": {"symbols": {"update": {
                     "shape": {"signal": "indexof(datum.value,'H2')==0 ? 'M-0.37,-0.37L0.37,0.37M-0.37,0.37L0.37,-0.37' : 'M-2.15,0L2.15,0'"},
                     "strokeDash": {"signal": "indexof(datum.value,'H1')==0 ? [8,5] : [1,0]"},
                     "fill": {"value": "transparent"},
                     "stroke": {"signal": "indexof(datum.value,'OPS')==0 ? '#ff0000' : indexof(datum.value,'NPB')==0 ? '#000000' : indexof(datum.value,'H1')==0 ? '#0000ff' : '#00ff00'"}}}}}}
             }},
            {"transform": [{"filter": "datum.s == 'NPB'"}],
             "mark": {"type": "line", "strokeWidth": 1.4, "interpolate": "monotone"},
             "encoding": {
               "x": {"field": "r", "type": "quantitative", "axis": {"orient": "bottom", "title": null, "labels": false, "tickSize": -3, "values": [0.002,0.003,0.004,0.005,0.006,0.007,0.008,0.009,0.02,0.03,0.04,0.05,0.06,0.07,0.08,0.09,0.2,0.3,0.4,0.5,0.6,0.7,0.8,0.9]}},
               "y": {"field": "w", "type": "quantitative", "axis": {"orient": "left", "title": null, "labels": false, "tickSize": -3, "values": [2,3,4,5,6,7,8,9,20,30,40,50,60,70,80,90,200,300,400,500,600,700,800,900]}},
               "color": {"field": "s", "type": "nominal"}}},
            {"transform": [{"filter": "datum.s == 'H1-P'"}],
             "mark": {"type": "line", "strokeWidth": 1.4, "strokeDash": [8, 5], "interpolate": "monotone"},
             "encoding": {
               "x": {"field": "r", "type": "quantitative", "axis": {"orient": "top", "title": null, "labels": false, "tickSize": -5, "values": [0.001, 0.01, 0.1, 1]}},
               "y": {"field": "w", "type": "quantitative", "axis": {"orient": "right", "title": null, "labels": false, "tickSize": -5, "values": [10, 100, 1000]}},
               "color": {"field": "s", "type": "nominal"}}},
            {"transform": [{"filter": "datum.s == 'H2-P'"}],
             "mark": {"type": "point", "shape": "M-1,-1L1,1M-1,1L1,-1", "filled": false, "size": 50, "strokeWidth": 1.2, "opacity": 1},
             "encoding": {
               "x": {"field": "r", "type": "quantitative", "axis": {"orient": "top", "title": null, "labels": false, "tickSize": -3, "values": [0.002,0.003,0.004,0.005,0.006,0.007,0.008,0.009,0.02,0.03,0.04,0.05,0.06,0.07,0.08,0.09,0.2,0.3,0.4,0.5,0.6,0.7,0.8,0.9]}},
               "y": {"field": "w", "type": "quantitative", "axis": {"orient": "right", "title": null, "labels": false, "tickSize": -3, "values": [2,3,4,5,6,7,8,9,20,30,40,50,60,70,80,90,200,300,400,500,600,700,800,900]}},
               "color": {"field": "s", "type": "nominal"}}}
          ]
        },
        {
          "width": 451, "height": 295,
          "title": {"text": "(d) WAoI (ρ = 10)", "offset": 25},
          "data": {"name": "pd"},
          "resolve": {"axis": {"x": "independent", "y": "independent"}},
          "layer": [
            {"transform": [{"filter": "datum.s == 'OPS-A'"}],
             "mark": {"type": "line", "strokeWidth": 1.4, "interpolate": "monotone"},
             "encoding": {
               "x": {"field": "r", "type": "quantitative", "scale": {"type": "log", "domain": [0.001, 1], "nice": false},
                 "axis": {"orient": "bottom", "title": "traffic mix parameter r", "values": [0.001, 0.01, 0.1, 1], "tickSize": -5,
                   "labelExpr": "datum.value==0.001?'10⁻³':datum.value==0.01?'10⁻²':datum.value==0.1?'10⁻¹':datum.value==1?'10⁰':''",
                   "labelPadding": 13, "titlePadding": 21}},
               "y": {"field": "w", "type": "quantitative", "scale": {"type": "log", "domain": [2, 704], "nice": false},
                 "axis": {"orient": "left", "title": "WAoI", "values": [10, 100], "tickSize": -5,
                   "labelExpr": "datum.value==10?'10¹':datum.value==100?'10²':datum.value==1000?'10³':''",
                   "labelPadding": 12, "titlePadding": 19}},
               "color": {"field": "s", "type": "nominal", "scale": {"domain": ["OPS-A", "NPB", "H1-A", "H2-A"], "range": ["#ff0000", "#000000", "#0000ff", "#008000"]},
                 "legend": {"title": null, "orient": "top-right", "offset": 16, "padding": 5, "rowPadding": 5.5, "symbolSize": 400, "symbolOffset": 10.5, "labelOffset": 24, "symbolStrokeWidth": 1.4, "strokeColor": "#262626", "fillColor": "white",
                   "encode": {"symbols": {"update": {
                     "shape": {"signal": "indexof(datum.value,'H2')==0 ? 'M-0.37,-0.37L0.37,0.37M-0.37,0.37L0.37,-0.37' : 'M-2.15,0L2.15,0'"},
                     "strokeDash": {"signal": "indexof(datum.value,'H1')==0 ? [8,5] : [1,0]"},
                     "fill": {"value": "transparent"},
                     "stroke": {"signal": "indexof(datum.value,'OPS')==0 ? '#ff0000' : indexof(datum.value,'NPB')==0 ? '#000000' : indexof(datum.value,'H1')==0 ? '#0000ff' : '#008000'"}}}}}}
             }},
            {"transform": [{"filter": "datum.s == 'NPB'"}],
             "mark": {"type": "line", "strokeWidth": 1.4, "interpolate": "monotone"},
             "encoding": {
               "x": {"field": "r", "type": "quantitative", "axis": {"orient": "bottom", "title": null, "labels": false, "tickSize": -3, "values": [0.002,0.003,0.004,0.005,0.006,0.007,0.008,0.009,0.02,0.03,0.04,0.05,0.06,0.07,0.08,0.09,0.2,0.3,0.4,0.5,0.6,0.7,0.8,0.9]}},
               "y": {"field": "w", "type": "quantitative", "axis": {"orient": "left", "title": null, "labels": false, "tickSize": -3, "values": [2,3,4,5,6,7,8,9,20,30,40,50,60,70,80,90,200,300,400,500,600,700]}},
               "color": {"field": "s", "type": "nominal"}}},
            {"transform": [{"filter": "datum.s == 'H1-A'"}],
             "mark": {"type": "line", "strokeWidth": 1.4, "strokeDash": [8, 5], "interpolate": "monotone"},
             "encoding": {
               "x": {"field": "r", "type": "quantitative", "axis": {"orient": "top", "title": null, "labels": false, "tickSize": -5, "values": [0.001, 0.01, 0.1, 1]}},
               "y": {"field": "w", "type": "quantitative", "axis": {"orient": "right", "title": null, "labels": false, "tickSize": -5, "values": [10, 100]}},
               "color": {"field": "s", "type": "nominal"}}},
            {"transform": [{"filter": "datum.s == 'H2-A'"}],
             "mark": {"type": "point", "shape": "M-1,-1L1,1M-1,1L1,-1", "filled": false, "size": 50, "strokeWidth": 1.2, "opacity": 1},
             "encoding": {
               "x": {"field": "r", "type": "quantitative", "axis": {"orient": "top", "title": null, "labels": false, "tickSize": -3, "values": [0.002,0.003,0.004,0.005,0.006,0.007,0.008,0.009,0.02,0.03,0.04,0.05,0.06,0.07,0.08,0.09,0.2,0.3,0.4,0.5,0.6,0.7,0.8,0.9]}},
               "y": {"field": "w", "type": "quantitative", "axis": {"orient": "right", "title": null, "labels": false, "tickSize": -3, "values": [2,3,4,5,6,7,8,9,20,30,40,50,60,70,80,90,200,300,400,500,600,700]}},
               "color": {"field": "s", "type": "nominal"}}}
          ]
        }
      ]
    }
  ]
}
